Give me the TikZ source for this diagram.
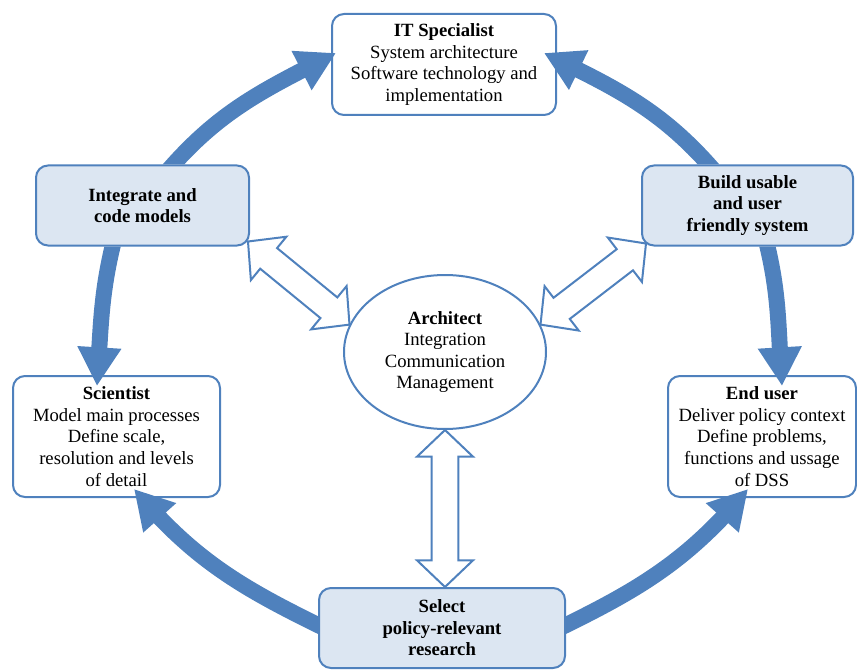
\documentclass[tikz,border=0pt]{standalone}
\usepackage{fontspec}
\setmainfont{Liberation Serif}
\usetikzlibrary{arrows.meta,calc,shapes.geometric,bending}
\definecolor{blu}{HTML}{4F81BD}
\definecolor{lbl}{HTML}{DCE6F2}
\tikzset{
  box/.style={draw=blu, line width=1.5pt, rounded corners=9pt, align=center, inner sep=2pt,
    font=\fontsize{14}{16.2}\selectfont},
  wbox/.style={box, fill=white},
  lbox/.style={box, fill=lbl, font=\bfseries\fontsize{14}{16.2}\selectfont},
  ellnode/.style={ellipse, draw=blu, line width=1.5pt, fill=white, inner sep=0pt, align=center,
    minimum width=151.5pt, minimum height=115.5pt, font=\fontsize{14}{16.2}\selectfont},
  cyc/.style={draw=blu, line width=12pt, -{Triangle[width=31pt,length=29pt]}},
  hollow/.style={draw=blu, line width=1.5pt, fill=white, line join=miter},
}
\newcommand\hollowarr[2]{%
  \path[hollow] (#1)
   -- ($(#1)!20pt!(#2)!21pt!90:(#2)$) -- ($(#1)!20pt!(#2)!10pt!90:(#2)$)
   -- ($(#2)!20pt!(#1)!10pt!-90:(#1)$) -- ($(#2)!20pt!(#1)!21pt!-90:(#1)$)
   -- (#2)
   -- ($(#2)!20pt!(#1)!21pt!90:(#1)$) -- ($(#2)!20pt!(#1)!10pt!90:(#1)$)
   -- ($(#1)!20pt!(#2)!10pt!-90:(#2)$) -- ($(#1)!20pt!(#2)!21pt!-90:(#2)$)
   -- cycle;}
\newcommand\cycarrow[5]{%
  \begin{scope}[even odd rule]
    \clip (0,0) rectangle (857,669) (#1.south west) rectangle (#1.north east);
    \draw[cyc] (#2) to[out=#4,in=#5] (#3);
  \end{scope}}
\begin{document}
\begin{tikzpicture}[x=0.75pt,y=0.75pt]
\useasboundingbox (0,0) rectangle (857,669);
% boxes
\node[wbox, minimum width=168pt, minimum height=75.75pt] (it) at (444,604.5)
  {\textbf{IT Specialist}\\System architecture\\Software technology and\\implementation};
\node[lbox, minimum width=159.75pt, minimum height=60pt] (integ) at (142.5,463.5)
  {Integrate and\\code models};
\node[lbox, minimum width=158.25pt, minimum height=60pt] (build) at (747.5,463.5)
  {Build usable\\and user\\friendly system};
\node[wbox, minimum width=155.25pt, minimum height=90.75pt] (sci) at (116.5,232.5)
  {\textbf{Scientist}\\Model main processes\\Define scale,\\resolution and levels\\of detail};
\node[wbox, minimum width=141pt, minimum height=90.75pt] (endu) at (762,232.5)
  {\textbf{End user}\\Deliver policy context\\Define problems,\\functions and ussage\\of DSS};
\node[lbox, minimum width=184.5pt, minimum height=60pt] (sel) at (442,41)
  {Select\\policy-relevant\\research};
\node[ellnode] (ell) at (445,317)
  {\textbf{Architect}\\Integration\\Communication\\Management};
% hollow double arrows
\coordinate (h1a) at ($(integ.south east)+(-2,5)$);
\coordinate (h1b) at (ell.164);
\coordinate (h2a) at ($(build.south west)+(5,3)$);
\coordinate (h2b) at (ell.16);
\coordinate (h3a) at (ell.south);
\coordinate (h3b) at (ell.south |- sel.north);
\hollowarr{h1a}{h1b}
\hollowarr{h2a}{h2b}
\hollowarr{h3a}{h3b}
% cycle arrows
\coordinate (c1s) at ($(integ.north west)+(133,-6)$);
\coordinate (c1e) at ($(it.west)+(5,11.5)$);
\coordinate (c2s) at ($(build.north west)+(73,-6)$);
\coordinate (c2e) at ($(it.east)+(-13,11.5)$);
\coordinate (c3s) at ($(integ.south west)+(79,6)$);
\coordinate (c3e) at ($(sci.north west)+(85,-11)$);
\coordinate (c4s) at ($(build.south west)+(125,6)$);
\coordinate (c4e) at ($(endu.north west)+(115,-11)$);
\coordinate (c5s) at ($(sel.west)+(6,0)$);
\coordinate (c5e) at ($(sci.south west)+(122,9)$);
\coordinate (c6s) at ($(sel.east)+(-6,0)$);
\coordinate (c6e) at ($(endu.south west)+(81,9)$);
\cycarrow{integ}{c1s}{c1e}{49}{207}
\cycarrow{build}{c2s}{c2e}{131}{-26}
\cycarrow{integ}{c3s}{c3e}{256}{86}
\cycarrow{build}{c4s}{c4e}{-76}{94}
\cycarrow{sel}{c5s}{c5e}{154}{-50}
\cycarrow{sel}{c6s}{c6e}{26}{230}
\end{tikzpicture}
\end{document}
